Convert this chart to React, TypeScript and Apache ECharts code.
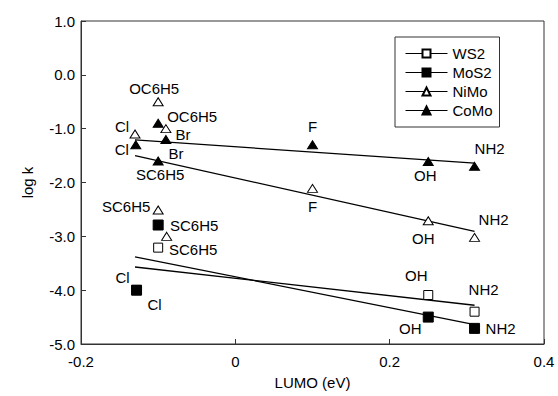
import React, { useEffect, useRef } from "react";
import * as echarts from "echarts";

const FONT = "'Liberation Sans', Arial, Helvetica, sans-serif";

// WS2 (open squares)
const ws2X = [-0.128, -0.1, 0.25, 0.31];
const ws2Y = [-4.0, -3.21, -4.09, -4.4];
const ws2Labels = ["Cl", "SC6H5", "OH", "NH2"];
// MoS2 (filled squares)
const mos2X = [-0.128, -0.1, 0.25, 0.31];
const mos2Y = [-4.0, -2.79, -4.5, -4.71];
const mos2Labels = ["Cl", "SC6H5", "OH", "NH2"];
// NiMo (open triangles)
const nimoX = [-0.13, -0.1, -0.09, -0.1, -0.089, 0.1, 0.25, 0.31];
const nimoY = [-1.1, -0.5, -1.0, -2.51, -3.0, -2.11, -2.71, -3.02];
const nimoLabels = ["Cl", "OC6H5", "Br", "SC6H5", "", "F", "OH", "NH2"];
// CoMo (filled triangles)
const comoX = [-0.129, -0.1, -0.09, -0.1, 0.1, 0.25, 0.31];
const comoY = [-1.3, -0.9, -1.2, -1.6, -1.3, -1.61, -1.7];
const comoLabels = ["Cl", "OC6H5", "Br", "SC6H5", "F", "OH", "NH2"];

// Fitted lines (endpoints)
const fitX = [-0.13, 0.31];
const ws2Fit = [-3.57, -4.28];
const mos2Fit = [-3.38, -4.64];
const nimoFit = [-1.5, -2.91];
const comoFit = [-1.21, -1.64];

const yTicks = [-5, -4, -3, -2, -1, 0, 1];

// label offsets (style only)
const offsets: Record<string, Record<string, number[]>> = {
  WS2: { Cl: [-14, -13], SC6H5: [35, 2], OH: [-12, -20], NH2: [9, -22] },
  MoS2: { Cl: [18, 14], SC6H5: [36, 0], OH: [-18, 11], NH2: [26, 0] },
  NiMo: { Cl: [-13, -8], OC6H5: [-4, -13], Br: [17, 6], SC6H5: [-32, -3], F: [0, 18], OH: [-5, 18], NH2: [19, -18] },
  CoMo: { Cl: [-14, 5], OC6H5: [34, -7], Br: [10, 14], SC6H5: [2, 14], F: [0, -18], OH: [-3, 14], NH2: [15, -18] },
};

function pts(name: string, xs: number[], ys: number[], labels: string[]) {
  return xs.map((x, i) => {
    const lab = labels[i];
    return {
      value: [x, ys[i]],
      label: lab
        ? { show: true, formatter: lab, offset: offsets[name][lab] || [0, 0] }
        : { show: false },
    };
  });
}

function markerSeries(name: string, xs: number[], ys: number[], labels: string[], symbol: string, size: any, filled: boolean, z: number) {
  return {
    name,
    type: "line",
    data: pts(name, xs, ys, labels),
    symbol,
    symbolSize: size,
    showSymbol: true,
    showAllSymbol: true,
    z,
    lineStyle: { width: 0, opacity: 0 },
    itemStyle: {
      color: filled ? "#000" : "#fff",
      borderColor: "#000",
      borderWidth: 1,
      opacity: 1,
    },
    label: {
      position: "inside",
      color: "#000",
      fontSize: 15,
      fontWeight: "normal",
      fontFamily: FONT,
      textBorderWidth: 0,
    },
    emphasis: { disabled: true },
  };
}

function fitSeries(id: string, ys: number[]) {
  return {
    id,
    type: "line",
    data: fitX.map((x, i) => [x, ys[i]]),
    symbol: "none",
    silent: true,
    z: 1,
    lineStyle: { color: "#000", width: 1.3 },
  };
}

export default function App() {
  const ref = useRef<HTMLDivElement>(null);
  useEffect(() => {
    if (!ref.current) return;
    const chart = echarts.init(ref.current, undefined, { renderer: "svg" });
    chart.setOption({
      animation: false,
      backgroundColor: "#fff",
      textStyle: { fontFamily: FONT },
      grid: {
        left: 81,
        top: 21,
        right: 14,
        bottom: 52,
        show: true,
        borderColor: "#333",
        borderWidth: 1,
        backgroundColor: "transparent",
      },
      legend: {
        data: ["WS2", "MoS2", "NiMo", "CoMo"],
        orient: "vertical",
        left: 395,
        top: 37,
        borderColor: "#333",
        borderWidth: 1,
        padding: [9, 7, 9, 10],
        itemGap: 4,
        itemWidth: 42,
        itemHeight: 10,
        textStyle: { fontSize: 15, color: "#000", fontFamily: FONT, fontWeight: "normal" },
        lineStyle: { color: "#000", width: 1, opacity: 1 },
        selectedMode: false,
      },
      xAxis: {
        type: "value",
        min: -0.2,
        max: 0.4,
        interval: 0.2,
        name: "LUMO (eV)",
        nameLocation: "middle",
        nameGap: 31,
        nameTextStyle: { fontSize: 15, color: "#000", fontFamily: FONT },
        axisLine: { show: true, onZero: false, lineStyle: { color: "#333", width: 1 } },
        axisTick: { show: true, inside: true, length: 5, lineStyle: { color: "#333" } },
        axisLabel: {
          margin: 10,
          fontSize: 15,
          color: "#000",
          fontFamily: FONT,
          formatter: (v: number) => (Math.abs(v) < 1e-9 ? "0" : v.toFixed(1)),
        },
        splitLine: { show: false },
      },
      yAxis: {
        type: "value",
        min: yTicks[0],
        max: yTicks[yTicks.length - 1],
        interval: 1,
        name: "log k",
        nameLocation: "middle",
        nameGap: 46,
        nameRotate: 90,
        nameTextStyle: { fontSize: 15, color: "#000", fontFamily: FONT },
        axisLine: { show: true, onZero: false, lineStyle: { color: "#333", width: 1 } },
        axisTick: { show: true, inside: true, length: 5, lineStyle: { color: "#333" } },
        axisLabel: {
          margin: 6,
          fontSize: 15,
          color: "#000",
          fontFamily: FONT,
          formatter: (v: number) => (Math.abs(v) < 1e-9 ? "0.0" : v.toFixed(1)),
        },
        splitLine: { show: false },
      },
      series: [
        fitSeries("fitWS2", ws2Fit),
        fitSeries("fitMoS2", mos2Fit),
        fitSeries("fitNiMo", nimoFit),
        fitSeries("fitCoMo", comoFit),
        markerSeries("WS2", ws2X, ws2Y, ws2Labels, "rect", 9, false, 3),
        markerSeries("MoS2", mos2X, mos2Y, mos2Labels, "rect", 10, true, 4),
        markerSeries("NiMo", nimoX, nimoY, nimoLabels, "triangle", [10, 8], false, 5),
        markerSeries("CoMo", comoX, comoY, comoLabels, "triangle", [10, 8], true, 6),
      ],
    });
    return () => chart.dispose();
  }, []);
  return (
    <div
      ref={ref}
      style={{ position: "fixed", left: 0, top: 0, width: 558, height: 396, background: "#fff" }}
    />
  );
}
